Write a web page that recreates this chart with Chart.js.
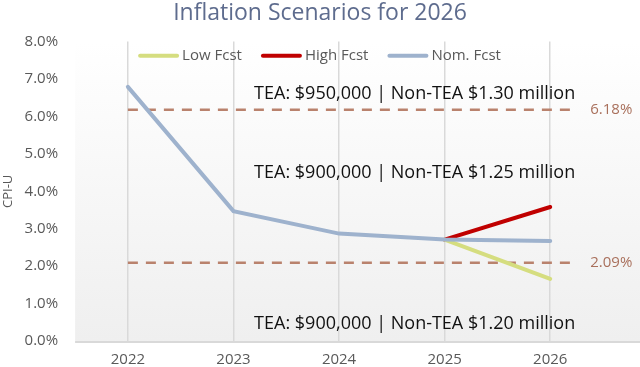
<!DOCTYPE html>
<html lang="en">
<head>
<meta charset="UTF-8">
<title>Inflation Scenarios for 2026</title>
<style>
  html, body { margin: 0; padding: 0; background: #fff; }
  #wrap { width: 640px; height: 367px; }
</style>
</head>
<body>
<div id="wrap"><canvas id="myChart"></canvas></div>
<script src="https://cdn.jsdelivr.net/npm/chart.js"></script>
<script>
// chart data
const years = ['2022', '2023', '2024', '2025', '2026'];
const nomFcst = [6.79, 3.47, 2.87, 2.71, 2.67];
const lowFcst = [null, null, null, 2.71, 1.66];
const highFcst = [null, null, null, 2.71, 3.58];
const yTicks = [0, 1, 2, 3, 4, 5, 6, 7, 8];

// reference lines and notes
const refValues = [6.18, 2.09];
const noteTexts = [
  'TEA: $950,000 | Non-TEA $1.30 million',
  'TEA: $900,000 | Non-TEA $1.25 million',
  'TEA: $900,000 | Non-TEA $1.20 million'
];
const noteValues = [6.6, 4.49, 0.45];
const legendValue = 7.62;

const FONT = "'Open Sans', sans-serif";
const GREY = '#595959';

// gradient background + baseline stretched to the right edge
const backdrop = {
  id: 'backdrop',
  beforeDraw(chart) {
    const { ctx, chartArea: a, width } = chart;
    const g = ctx.createLinearGradient(0, a.top, 0, a.bottom);
    g.addColorStop(0, '#ffffff');
    g.addColorStop(1, '#efefef');
    ctx.save();
    ctx.fillStyle = g;
    ctx.fillRect(a.left, a.top, width - a.left, a.bottom - a.top);
    ctx.restore();
  },
  afterDraw(chart) {
    const { ctx, chartArea: a, width } = chart;
    ctx.save();
    ctx.strokeStyle = '#d9d9d9';
    ctx.lineWidth = 2;
    ctx.beginPath();
    ctx.moveTo(a.left, a.bottom + 1);
    ctx.lineTo(width, a.bottom + 1);
    ctx.stroke();
    ctx.restore();
  }
};

const refLines = {
  id: 'refLines',
  beforeDatasetsDraw(chart) {
    const { ctx, scales: { x, y } } = chart;
    const x0 = x.getPixelForValue(0);
    const x1 = x.getPixelForValue(years.length - 1) + 25;
    ctx.save();
    ctx.strokeStyle = '#B9826D';
    ctx.lineWidth = 2.5;
    ctx.setLineDash([10, 8]);
    ctx.font = '15px ' + FONT;
    ctx.textBaseline = 'middle';
    refValues.forEach(v => {
      const py = y.getPixelForValue(v);
      ctx.beginPath();
      ctx.moveTo(x0, py);
      ctx.lineTo(x1, py);
      ctx.stroke();
      ctx.fillStyle = '#A9705C';
      ctx.fillText(v.toFixed(2) + '%', x1 + 15, py);
    });
    ctx.setLineDash([]);
    ctx.fillStyle = '#111';
    ctx.font = '18px ' + FONT;
    ctx.textAlign = 'right';
    noteTexts.forEach((t, i) => {
      ctx.fillText(t, x1, y.getPixelForValue(noteValues[i]));
    });
    ctx.restore();
  }
};

// legend drawn inside the plot, centred on the canvas
const insideLegend = {
  id: 'insideLegend',
  afterDraw(chart) {
    const { ctx, width, scales: { y } } = chart;
    const sets = chart.data.datasets;
    const lineW = 39, gap = 4, between = 20;
    ctx.save();
    ctx.font = '15px ' + FONT;
    const widths = sets.map(d => lineW + gap + ctx.measureText(d.label).width);
    const total = widths.reduce((s, w) => s + w, 0) + between * (sets.length - 1);
    let px = (width - total) / 2;
    const py = y.getPixelForValue(legendValue);
    ctx.textBaseline = 'middle';
    ctx.lineCap = 'round';
    sets.forEach((d, i) => {
      ctx.strokeStyle = d.borderColor;
      ctx.lineWidth = 4;
      ctx.beginPath();
      ctx.moveTo(px + 1, py);
      ctx.lineTo(px + lineW - 1, py);
      ctx.stroke();
      ctx.fillStyle = GREY;
      ctx.fillText(d.label, px + lineW + gap, py);
      px += widths[i] + between;
    });
    ctx.restore();
  }
};

new Chart(document.getElementById('myChart'), {
  type: 'line',
  data: {
    labels: years,
    datasets: [
      { label: 'Low Fcst', data: lowFcst, borderColor: '#D5DD7F', backgroundColor: '#D5DD7F', order: 1 },
      { label: 'High Fcst', data: highFcst, borderColor: '#C00000', backgroundColor: '#C00000', order: 1 },
      { label: 'Nom. Fcst', data: nomFcst, borderColor: '#9EB2CD', backgroundColor: '#9EB2CD', order: 0 }
    ]
  },
  options: {
    responsive: true,
    maintainAspectRatio: false,
    animation: false,
    layout: { padding: { top: 0, right: 0, bottom: -12, left: 0 } },
    elements: {
      line: { borderWidth: 4, tension: 0, borderCapStyle: 'round' },
      point: { radius: 0 }
    },
    plugins: {
      tooltip: { enabled: false },
      legend: { display: false },
      title: {
        display: true,
        text: 'Inflation Scenarios for 2026',
        color: '#5E6C8E',
        font: { family: FONT, size: 23, weight: 'normal' },
        padding: { top: 0, bottom: 14 }
      }
    },
    scales: {
      x: {
        offset: true,
        grid: { offset: false, color: '#d9d9d9', lineWidth: 1.5, drawTicks: false },
        border: { display: false },
        ticks: { color: GREY, font: { family: FONT, size: 15 }, padding: 10 }
      },
      y: {
        min: 0,
        max: 8,
        afterBuildTicks: axis => { axis.ticks = yTicks.map(v => ({ value: v })); },
        grid: { display: false },
        border: { display: false },
        ticks: {
          color: GREY,
          font: { family: FONT, size: 15 },
          padding: 9,
          callback: v => v.toFixed(1) + '%'
        },
        title: { display: true, text: 'CPI-U', color: GREY, font: { family: FONT, size: 13 }, padding: 0 }
      },
      // empty right axis, only to keep room for the right-hand labels
      yRight: {
        position: 'right',
        min: 0,
        max: 8,
        grid: { display: false },
        border: { display: false },
        ticks: { display: false },
        afterFit: axis => { axis.width = 37; }
      }
    }
  },
  plugins: [backdrop, refLines, insideLegend]
});
</script>
</body>
</html>
